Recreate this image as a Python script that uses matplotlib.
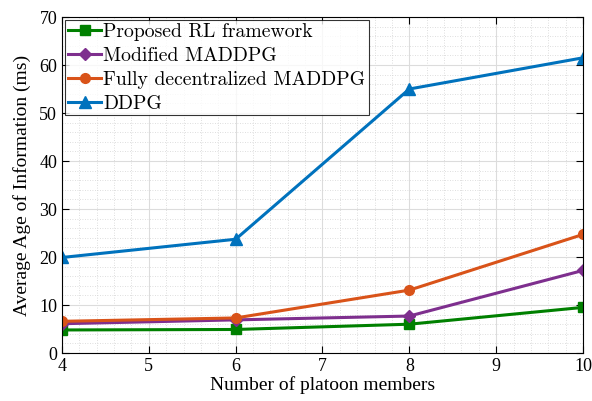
import matplotlib
matplotlib.use("Agg")
import matplotlib.pyplot as plt
from matplotlib.ticker import MultipleLocator

plt.rcParams['font.family'] = ['Liberation Serif', 'DejaVu Serif']
plt.rcParams['mathtext.fontset'] = 'cm'

members = [4, 6, 8, 10]
proposed = [4.8, 4.9, 6.0, 9.5]
modified = [6.1, 6.9, 7.7, 17.2]
fully = [6.6, 7.3, 13.1, 24.7]
ddpg = [19.9, 23.7, 55.0, 61.5]

fig = plt.figure(figsize=(5.92, 4.01), dpi=100)
ax = fig.add_axes([62/592, 48/401, 521/592, 336/401])

ax.plot(members, proposed, '-s', color='#008000', lw=2.2, ms=7, label='Proposed RL framework')
ax.plot(members, modified, '-D', color='#7E2F8E', lw=2.2, ms=6, label='Modified MADDPG')
ax.plot(members, fully, '-o', color='#D95319', lw=2.2, ms=7, label='Fully decentralized MADDPG')
ax.plot(members, ddpg, '-^', color='#0072BD', lw=2.2, ms=8, label='DDPG')

ax.set_xlim(4, 10)
ax.set_ylim(0, 70)
ax.xaxis.set_major_locator(MultipleLocator(1))
ax.yaxis.set_major_locator(MultipleLocator(10))
ax.xaxis.set_minor_locator(MultipleLocator(0.2))
ax.yaxis.set_minor_locator(MultipleLocator(2))
ax.grid(which='major', color='#dcdcdc', lw=0.8)
ax.grid(which='minor', color='#d4d4d4', lw=0.6, ls=(0, (1, 2)))
ax.set_axisbelow(True)
ax.tick_params(which='both', direction='in', labelsize=13, top=True, right=True)
ax.tick_params(which='major', length=5)
ax.tick_params(which='minor', length=0)
for s in ax.spines.values():
    s.set_linewidth(0.8)

ax.set_xlabel('Number of platoon members', fontsize=14, labelpad=1)
ax.set_ylabel('Average Age of Information (ms)', fontsize=14, labelpad=6)

leg = ax.legend(loc='upper left', fancybox=False, edgecolor='black',
                borderaxespad=0.15, handlelength=1.7, handletextpad=0.1,
                labelspacing=0.3, borderpad=0.15,
                prop={'family': 'cmr10', 'size': 14.2})
leg.get_frame().set_linewidth(0.8)

fig.savefig('out.png', dpi=100)
